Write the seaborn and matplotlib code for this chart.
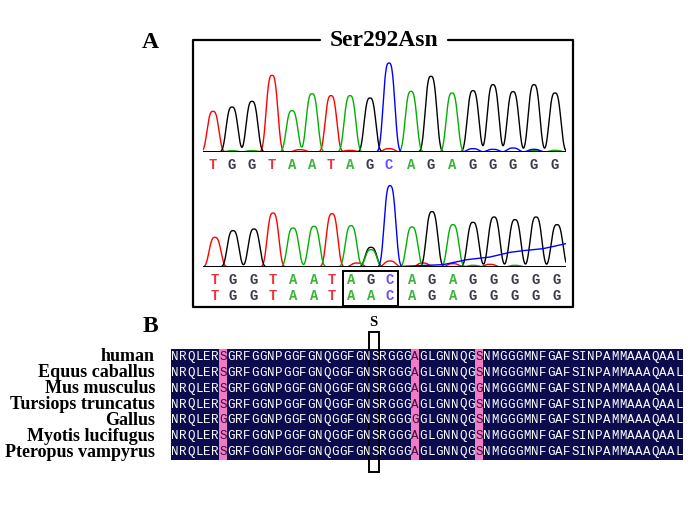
import numpy as np
import pandas as pd
import matplotlib
matplotlib.use('Agg')
import matplotlib.pyplot as plt
from matplotlib.colors import ListedColormap
from matplotlib.patches import Rectangle
import seaborn as sns

# Panel A: base calls, peak positions (scan units) and peak heights (signal)
bases_top = list('TGGTAATAGCAGAGGGGG')
pos_top = [213, 232, 252, 272, 292, 312, 331, 350, 370, 389, 411, 431, 452, 473, 493, 513, 534, 555]
height_top = [122, 135, 152, 230, 124, 175, 169, 169, 162, 267, 182, 227, 177, 184, 202, 181, 202, 177]
minor_top = [('T', 300, 7), ('T', 350, 5), ('T', 389, 10), ('C', 473, 10), ('C', 493, 8),
             ('C', 513, 12), ('C', 534, 8), ('A', 232, 4), ('A', 252, 4), ('A', 534, 5), ('A', 555, 5)]

bases_mut = list('TGGTAATAGCAGAGGGGG')
bases_ref = list('TGGTAATAACAGAGGGGG')
pos_bot = [215, 233, 254, 273, 293, 314, 332, 351, 371, 390, 412, 432, 453, 473, 494, 515, 536, 557]
height_bot = [89, 109, 114, 162, 117, 122, 160, 124, 59, 244, 120, 166, 127, 134, 150, 142, 150, 127]
minor_bot = [('A', 371, 52), ('T', 357, 12), ('T', 390, 18), ('T', 423, 12), ('T', 453, 10),
             ('T', 490, 8), ('A', 473, 5), ('A', 515, 5)]
drift_x = [403, 443, 467, 490, 510, 523, 543, 557, 566]
drift_y = [2, 7, 22, 30, 44, 49, 55, 64, 70]

# Panel B: alignment
species = ['human', 'Equus caballus', 'Mus musculus', 'Tursiops truncatus',
           'Gallus', 'Myotis lucifugus', 'Pteropus vampyrus']
consensus = 'NRQLERSGRFGGNPGGFGNQGGFGNSRGGGAGLGNNQGSNMGGGMNFGAFSINPAMMAAAQAAL'
substitutions = {'Mus musculus': {39: 'G'}, 'Gallus': {7: 'G', 31: 'G'}}
highlight_cols = [7, 31, 39]
mutated_col = 26

trace_colors = {'T': '#ff0000', 'G': '#000000', 'A': '#00b000', 'C': '#0000ff'}
letter_colors = {'T': '#e8343c', 'G': '#3a3a48', 'A': '#3cb43c', 'C': '#6a50ff'}

W, H = 697, 530


def box(x0, y0, x1, y1):
    return [x0 / W, 1 - y1 / H, (x1 - x0) / W, (y1 - y0) / H]


def traces(pos, heights, bases, minor, grid, s=5.5, p=3):
    # peak shape: flattened bell around each called base
    peaks = list(zip(bases, pos, heights)) + minor
    frames = []
    for ch in 'TGAC':
        y = np.zeros_like(grid)
        for b, c, h in peaks:
            if b == ch:
                y += h * np.exp(-0.5 * np.abs((grid - c) / s) ** p)
        frames.append(pd.DataFrame({'x': grid, 'y': y, 'ch': ch}))
    return frames


sns.set_style('white')
plt.rcParams['text.color'] = 'black'
plt.rcParams['ytick.color'] = 'black'
plt.rcParams['ytick.labelcolor'] = 'black'
fig = plt.figure(figsize=(W / 100, H / 100), dpi=100)

# top trace
ax1 = fig.add_axes(box(203, 52, 566, 152))
grid = np.linspace(203, 566, 1500)
df1 = pd.concat(traces(pos_top, height_top, bases_top, minor_top, grid))
sns.lineplot(data=df1, x='x', y='y', hue='ch', palette=trace_colors, estimator=None,
             sort=False, legend=False, linewidth=1.0, ax=ax1)
ax1.axhline(0, color='black', lw=1.4)
for b, c in zip(bases_top, pos_top):
    ax1.text(c, -39, b, color=letter_colors[b], ha='center', va='center',
             fontsize=10, fontweight='bold', family='Liberation Mono', clip_on=False)

# bottom trace
ax2 = fig.add_axes(box(203, 167, 566, 267))
frames = traces(pos_bot, height_bot, bases_mut, minor_bot, grid)
blue = frames[3]
blue = blue[blue['x'] < drift_x[0]]
frames[3] = pd.concat([blue, pd.DataFrame({'x': drift_x, 'y': drift_y, 'ch': 'C'})])
df2 = pd.concat(frames)
sns.lineplot(data=df2, x='x', y='y', hue='ch', palette=trace_colors, estimator=None,
             sort=False, legend=False, linewidth=1.0, ax=ax2)
ax2.axhline(0, color='black', lw=1.4)
for row, yy in ((bases_mut, -39), (bases_ref, -87)):
    for b, c in zip(row, pos_bot):
        ax2.text(c, yy, b, color=letter_colors[b], ha='center', va='center',
                 fontsize=10, fontweight='bold', family='Liberation Mono', clip_on=False)
ax2.add_patch(Rectangle((343, -12), 55, -105, fill=False, lw=1.4, ec='black', clip_on=False))

for ax in (ax1, ax2):
    ax.set_xlim(203, 566)
    ax.set_ylim(0, 300)
    ax.axis('off')

# alignment
seqs = []
for sp in species:
    s = list(consensus)
    for col, aa in substitutions.get(sp, {}).items():
        s[col - 1] = aa
    seqs.append(s)
letters = np.array(seqs)
mask = np.zeros(letters.shape)
for c in highlight_cols:
    mask[:, c - 1] = 1

ax3 = fig.add_axes(box(171, 349, 683, 460))
sns.heatmap(mask, ax=ax3, cmap=ListedColormap(['#0b0b4e', '#f07cc6']), cbar=False,
            annot=letters, fmt='', xticklabels=False, yticklabels=species,
            annot_kws={'fontsize': 9, 'family': 'Liberation Mono'})
for t in ax3.texts:
    cx, cy = t.get_position()
    t.set_color('#3a1040' if mask[int(cy), int(cx)] else 'white')
ax3.tick_params(axis='y', length=0, pad=11.5)
for lbl in ax3.get_yticklabels():
    lbl.set_rotation(0)
    lbl.set_color('black')
    lbl.set_fontfamily('Liberation Serif')
    lbl.set_fontweight('bold')
    lbl.set_fontsize(13)
ax3.add_patch(Rectangle((mutated_col - 1.3, -1.07), 1.3, 8.83, fill=False, lw=1.4,
                        ec='black', clip_on=False))
ax3.text(mutated_col - 0.7, -1.65, consensus[mutated_col - 1], ha='center', va='center',
         fontsize=10.5, fontweight='bold', family='Liberation Serif')

# frame and panel labels
ov = fig.add_axes([0, 0, 1, 1])
ov.set_xlim(0, W)
ov.set_ylim(H, 0)
ov.axis('off')
ov.patch.set_alpha(0)
ov.plot([320, 193, 193, 573, 573, 448], [40, 40, 307, 307, 40, 40], color='black', lw=1.6)
ov.text(384, 40, 'Ser292Asn', ha='center', va='center', fontsize=17, fontweight='bold',
        family='Liberation Serif')
ov.text(150, 43, 'A', ha='center', va='center', fontsize=17, fontweight='bold',
        family='Liberation Serif')
ov.text(150, 327, 'B', ha='center', va='center', fontsize=17, fontweight='bold',
        family='Liberation Serif')

fig.savefig('out.png', dpi=100)
